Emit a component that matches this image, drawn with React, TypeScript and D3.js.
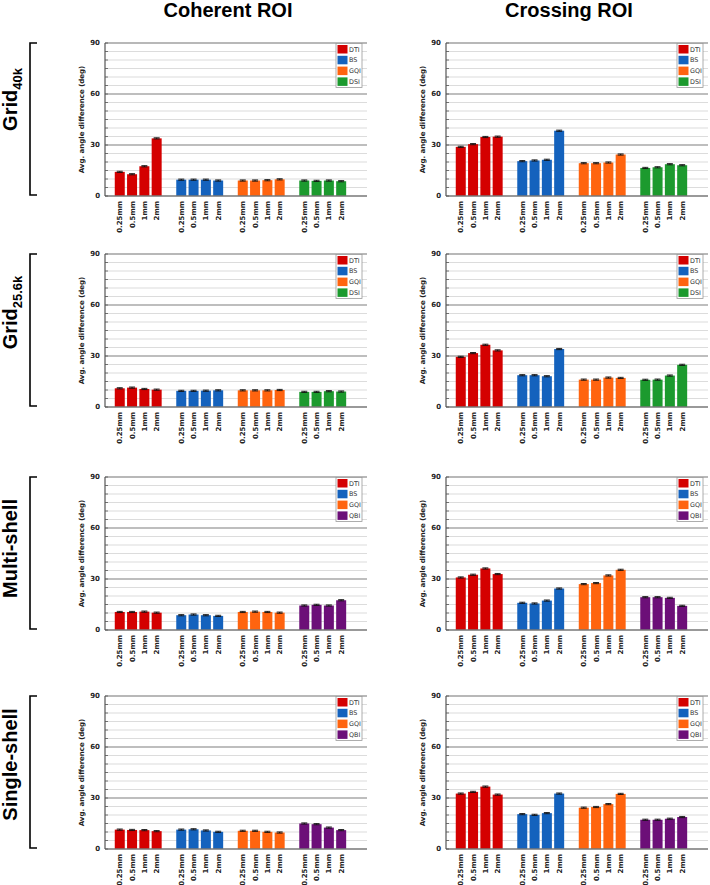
import React from "react";
import * as d3 from "d3";

// resolution categories on the x axis
const resolutions = ["0.25mm", "0.5mm", "1mm", "2mm"];
const columnTitles = ["Coherent ROI", "Crossing ROI"];
const yTicks = [0, 30, 60, 90];

const methodsDsi = ["DTI", "BS", "GQI", "DSI"];
const methodsQbi = ["DTI", "BS", "GQI", "QBI"];

const methodColors: Record<string, string> = {
  DTI: "#d40000",
  BS: "#1462bd",
  GQI: "#ff640f",
  DSI: "#1c9a2e",
  QBI: "#6c0f78",
};

// average angle difference (deg), one array per method, in resolution order
const grid40kCoherent = [
  [14.2, 12.8, 17.5, 33.9],
  [9.6, 9.6, 9.6, 9.1],
  [9.1, 9.1, 9.3, 9.8],
  [9.1, 8.9, 9.1, 8.7],
];
const grid40kCrossing = [
  [28.9, 30.5, 34.7, 34.9],
  [20.5, 20.9, 21.3, 38.4],
  [19.3, 19.3, 19.7, 24.4],
  [16.5, 16.9, 18.7, 18.1],
];
const grid256kCoherent = [
  [11.0, 11.4, 10.6, 10.2],
  [9.5, 9.5, 9.6, 9.8],
  [9.8, 9.8, 9.8, 10.0],
  [8.9, 8.9, 9.3, 9.1],
];
const grid256kCrossing = [
  [29.5, 31.7, 36.6, 33.3],
  [18.7, 18.7, 18.1, 34.1],
  [16.1, 16.1, 17.3, 17.1],
  [16.0, 16.1, 18.5, 24.8],
];
const multiShellCoherent = [
  [10.6, 10.6, 10.8, 10.2],
  [8.7, 9.1, 8.7, 8.3],
  [10.6, 10.8, 10.6, 10.2],
  [14.4, 14.8, 14.4, 17.5],
];
const multiShellCrossing = [
  [30.9, 32.5, 36.2, 32.9],
  [16.0, 15.6, 17.3, 24.4],
  [27.0, 27.6, 32.1, 35.4],
  [19.3, 19.3, 18.9, 14.2],
];
const singleShellCoherent = [
  [11.4, 11.2, 11.1, 10.5],
  [11.4, 11.6, 10.9, 10.1],
  [10.7, 10.7, 10.1, 9.7],
  [15.0, 14.6, 12.6, 11.1],
];
const singleShellCrossing = [
  [32.6, 33.6, 36.7, 32.0],
  [20.5, 20.1, 21.1, 32.6],
  [24.3, 24.7, 26.4, 32.4],
  [17.2, 17.2, 17.8, 18.8],
];
const errHalf = 0.35;

const rows = [
  { main: "Grid", sub: "40k", methods: methodsDsi, data: [grid40kCoherent, grid40kCrossing] },
  { main: "Grid", sub: "25.6k", methods: methodsDsi, data: [grid256kCoherent, grid256kCrossing] },
  { main: "Multi-shell", sub: "", methods: methodsQbi, data: [multiShellCoherent, multiShellCrossing] },
  { main: "Single-shell", sub: "", methods: methodsQbi, data: [singleShellCoherent, singleShellCrossing] },
];

const W = 710, H = 885;
const rowTops = [43, 254, 477, 696];
const rowLabelShift = [-20, -18, -5, -8];
const plotH = 153;
const colLefts = [105, 446];
const plotW = 262;
const sans = "'DejaVu Sans', Verdana, sans-serif";
const arial = "'Liberation Sans', Arial, sans-serif";

function Panel({ x0, top, values, methods, showLegend }: any) {
  const x = d3.scaleLinear().domain([-1.2, 20.1]).range([x0, x0 + plotW]);
  const y = d3.scaleLinear().domain([0, 90]).range([top + plotH, top]);
  const minor = d3.range(5, 90, 5).filter((v) => v % 30 !== 0);
  const bw = 10;
  const legX = x0 + plotW - 30;
  return (
    <g>
      {minor.map((v) => (
        <line key={"m" + v} x1={x0} x2={x0 + plotW} y1={y(v)} y2={y(v)} stroke="#dcdcdc" strokeWidth={1.1} />
      ))}
      {[30, 60].map((v) => (
        <line key={"M" + v} x1={x0} x2={x0 + plotW} y1={y(v)} y2={y(v)} stroke="#a8a8a8" strokeWidth={1.3} />
      ))}
      <line x1={x0} x2={x0 + plotW} y1={y(90)} y2={y(90)} stroke="#a0a0a0" strokeWidth={1.3} />
      {values.map((arr: number[], g: number) =>
        arr.map((v, i) => {
          const cx = x(g * 5 + i);
          return (
            <g key={g + "-" + i}>
              <rect x={cx - bw / 2} y={y(v)} width={bw} height={y(0) - y(v)} fill={methodColors[methods[g]]} />
              <line x1={cx} x2={cx} y1={y(v + errHalf)} y2={y(v - errHalf)} stroke="#111" strokeWidth={1} />
              <line x1={cx - 3} x2={cx + 3} y1={y(v + errHalf)} y2={y(v + errHalf)} stroke="#111" strokeWidth={0.9} />
              <line x1={cx - 3} x2={cx + 3} y1={y(v - errHalf)} y2={y(v - errHalf)} stroke="#111" strokeWidth={0.9} />
            </g>
          );
        })
      )}
      <line x1={x0} x2={x0 + plotW} y1={y(0)} y2={y(0)} stroke="#777" strokeWidth={1.3} />
      <line x1={x0} x2={x0} y1={y(0)} y2={y(90)} stroke="#555" strokeWidth={1.2} />
      {d3.range(0, 95, 5).map((v) => (
        <line key={"t" + v} x1={x0} x2={x0 + 3} y1={y(v)} y2={y(v)} stroke="#555" strokeWidth={0.8} />
      ))}
      {yTicks.map((v) => (
        <text key={"yl" + v} x={x0 - 5} y={y(v)} dy="0.35em" textAnchor="end" fontFamily={sans} fontWeight="bold" fontSize={7} fill="#222">
          {v}
        </text>
      ))}
      <text
        transform={`translate(${x0 - 21},${top + plotH / 2}) rotate(-90)`}
        textAnchor="middle"
        fontFamily={sans}
        fontWeight="bold"
        fontSize={7}
        fill="#222"
      >
        Avg. angle difference (deg)
      </text>
      {values.map((arr: number[], g: number) =>
        arr.map((_v, i) => (
          <text
            key={"xl" + g + i}
            transform={`translate(${x(g * 5 + i) + 2.5},${y(0) + 5}) rotate(-90)`}
            textAnchor="end"
            fontFamily={sans}
            fontWeight="bold"
            fontSize={7}
            fill="#222"
          >
            {resolutions[i]}
          </text>
        ))
      )}
      {showLegend && (
        <g>
          <rect x={legX - 1} y={top + 0.5} width={26} height={44} fill="#fff" stroke="#999" strokeWidth={0.8} />
          {methods.map((m: string, k: number) => (
            <g key={m}>
              <rect x={legX + 0.5} y={top + 2 + k * 10.8} width={10} height={8.5} fill={methodColors[m]} />
              <text x={legX + 12} y={top + 6.4 + k * 10.8} dy="0.35em" fontFamily={sans} fontSize={6.4} fill="#333">
                {m}
              </text>
            </g>
          ))}
        </g>
      )}
    </g>
  );
}

export default function App() {
  return (
    <svg width={W} height={H} style={{ position: "absolute", left: 0, top: 0, background: "#fff" }}>
      <rect width={W} height={H} fill="#fff" />
      {columnTitles.map((t, c) => (
        <text key={t} x={colLefts[c] + plotW / 2 - 8} y={17} textAnchor="middle" fontFamily={arial} fontWeight="bold" fontSize={20} fill="#000">
          {t}
        </text>
      ))}
      {rows.map((r, ri) => {
        const top = rowTops[ri];
        const mid = top + plotH / 2;
        return (
          <g key={ri}>
            <path
              d={`M37,${top} H30 V${top + plotH - 1} H37`}
              fill="none"
              stroke="#000"
              strokeWidth={1.6}
            />
            <text
              transform={`translate(17,${mid + rowLabelShift[ri]}) rotate(-90)`}
              textAnchor="middle"
              fontFamily={arial}
              fontWeight="bold"
              fontSize={20}
              fill="#000"
            >
              {r.main}
              {r.sub && (
                <tspan fontSize={13} dy={5}>
                  {r.sub}
                </tspan>
              )}
            </text>
            {colLefts.map((x0, c) => (
              <Panel key={c} x0={x0} top={top} values={r.data[c]} methods={r.methods} showLegend={true} />
            ))}
          </g>
        );
      })}
    </svg>
  );
}
